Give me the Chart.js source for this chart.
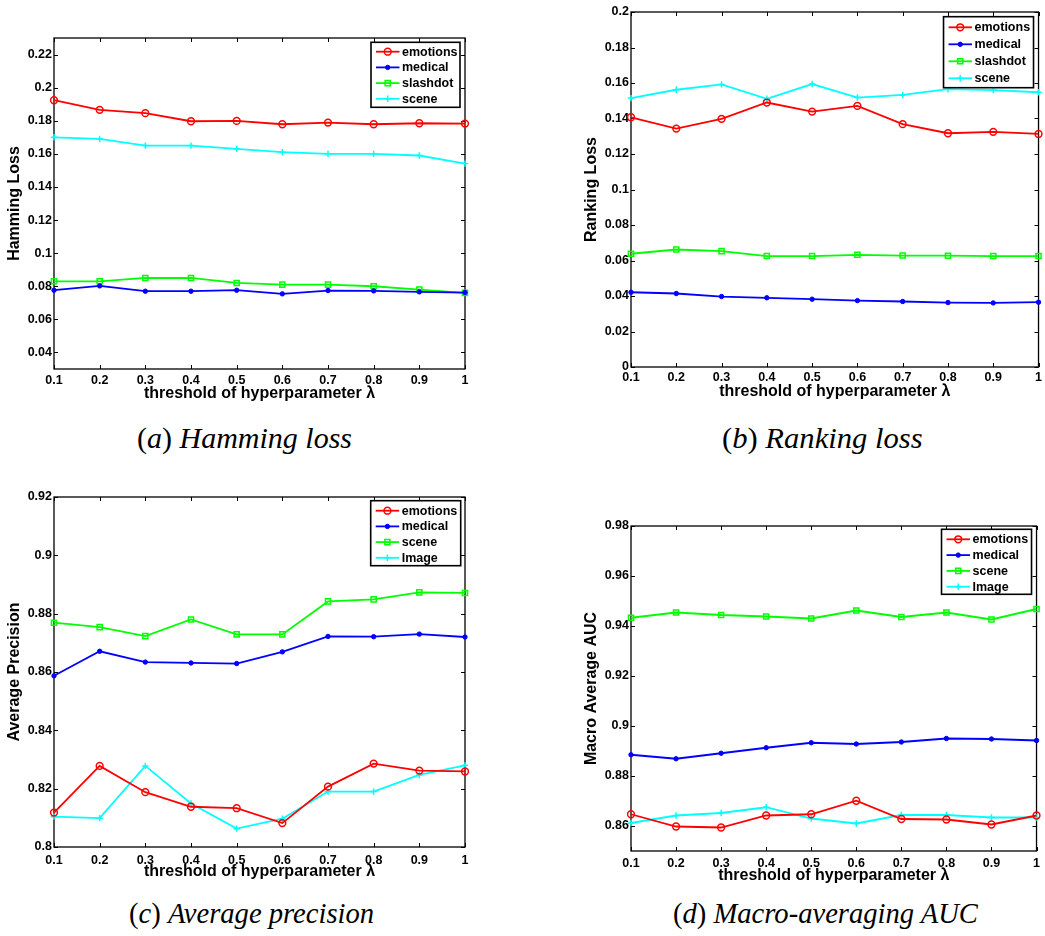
<!DOCTYPE html>
<html><head><meta charset="utf-8">
<script src="https://cdn.jsdelivr.net/npm/chart.js@4.4.0/dist/chart.umd.min.js"></script>
<style>
html,body{margin:0;padding:0;background:#fff;width:1045px;height:936px;overflow:hidden;}
canvas{position:absolute;}
.cap{position:absolute;font-family:"Liberation Serif","Times New Roman",serif;font-size:30px;line-height:30px;white-space:nowrap;color:#000;transform-origin:0 50%;}
.cap i{font-style:italic;}
</style></head><body>
<canvas id="ca" width="520" height="411" style="left:0;top:0"></canvas>
<canvas id="cb" width="525" height="409" style="left:520px;top:0"></canvas>
<canvas id="cc" width="520" height="429" style="left:0;top:460px"></canvas>
<canvas id="cd" width="525" height="433" style="left:520px;top:460px"></canvas>
<div class="cap" style="left:137px;top:423px">(<i>a</i>) <i>Hamming loss</i></div>
<div class="cap" style="left:722px;top:423px;transform:scaleX(1.02)">(<i>b</i>) <i>Ranking loss</i></div>
<div class="cap" style="left:129px;top:898px;transform:scaleX(0.953)">(<i>c</i>) <i>Average precision</i></div>
<div class="cap" style="left:673px;top:898px;transform:scaleX(0.953)">(<i>d</i>) <i>Macro-averaging AUC</i></div>
<script>
// ---- data ----
const xLabels = ['0.1','0.2','0.3','0.4','0.5','0.6','0.7','0.8','0.9','1'];
const xTitle = 'threshold of hyperparameter \u03bb';

const hamEmotions = [0.1924,0.1866,0.1846,0.1797,0.1799,0.1779,0.1789,0.1779,0.1785,0.1783];
const hamMedical  = [0.0776,0.0802,0.0770,0.0770,0.0776,0.0754,0.0774,0.0772,0.0766,0.0762];
const hamSlashdot = [0.0830,0.0830,0.0850,0.0850,0.0820,0.0810,0.0810,0.0800,0.0780,0.0760];
const hamScene    = [0.1700,0.1690,0.1650,0.1650,0.1630,0.1610,0.1600,0.1600,0.1590,0.1541];
const hamTicks    = [0.04,0.06,0.08,0.1,0.12,0.14,0.16,0.18,0.2,0.22];

const rankEmotions = [0.1407,0.1343,0.1398,0.1490,0.1439,0.1471,0.1368,0.1317,0.1325,0.1313];
const rankMedical  = [0.0421,0.0414,0.0397,0.0390,0.0382,0.0374,0.0369,0.0363,0.0361,0.0365];
const rankSlashdot = [0.0638,0.0662,0.0653,0.0625,0.0625,0.0632,0.0628,0.0627,0.0625,0.0625];
const rankScene    = [0.1515,0.1562,0.1592,0.1511,0.1594,0.1518,0.1533,0.1565,0.1560,0.1548];
const rankTicks    = [0,0.02,0.04,0.06,0.08,0.1,0.12,0.14,0.16,0.18,0.2];

const apEmotions = [0.8118,0.8278,0.8188,0.8138,0.8133,0.8082,0.8207,0.8286,0.8262,0.8259];
const apMedical  = [0.8587,0.8671,0.8634,0.8631,0.8629,0.8669,0.8722,0.8721,0.8730,0.8720];
const apScene    = [0.8769,0.8754,0.8723,0.8780,0.8729,0.8729,0.8842,0.8849,0.8873,0.8871];
const apImage    = [0.8104,0.8099,0.8278,0.8149,0.8063,0.8097,0.8190,0.8190,0.8247,0.8280];
const apTicks    = [0.8,0.82,0.84,0.86,0.88,0.9,0.92];

const aucEmotions = [0.8647,0.8598,0.8594,0.8642,0.8647,0.8701,0.8628,0.8626,0.8606,0.8642];
const aucMedical  = [0.8885,0.8869,0.8891,0.8913,0.8933,0.8928,0.8936,0.8950,0.8948,0.8942];
const aucScene    = [0.9433,0.9454,0.9444,0.9438,0.9430,0.9462,0.9436,0.9454,0.9426,0.9468];
const aucImage    = [0.8612,0.8642,0.8652,0.8675,0.8630,0.8610,0.8644,0.8644,0.8634,0.8634];
const aucTicks    = [0.86,0.88,0.9,0.92,0.94,0.96,0.98];

// ---- styles ----
const FONT = "'Liberation Sans', Arial, Helvetica, sans-serif";
const STY = {
  red:   {borderColor:'#ff0000', pointStyle:'circle', pointRadius:3.4, pointBackgroundColor:'rgba(0,0,0,0)', pointBorderColor:'#ff0000', pointBorderWidth:1.5},
  blue:  {borderColor:'#0000ff', pointStyle:'circle', pointRadius:2.2, pointBackgroundColor:'#0000ff', pointBorderColor:'#0000ff', pointBorderWidth:1},
  green: {borderColor:'#00ff00', pointStyle:'rect', pointRadius:3.6, pointBackgroundColor:'rgba(0,0,0,0)', pointBorderColor:'#00ff00', pointBorderWidth:1.5},
  cyan:  {borderColor:'#00ffff', pointStyle:'cross', pointRadius:3.2, pointBackgroundColor:'#00ffff', pointBorderColor:'#00ffff', pointBorderWidth:1.5}
};

function fmt(v){ return String(Number(v.toFixed(4))); }

const framePlugin = {
  id:'matlabFrame',
  beforeDatasetsDraw(chart){
    const ctx = chart.ctx, a = chart.chartArea, xs = chart.scales.x, ys = chart.scales.y;
    const tl = 4;
    ctx.save();
    ctx.strokeStyle = '#000'; ctx.lineWidth = 1;
    ctx.beginPath();
    xs.ticks.forEach((t,i)=>{
      const x = Math.round(xs.getPixelForTick(i))+0.5;
      ctx.moveTo(x,a.bottom); ctx.lineTo(x,a.bottom-tl);
      ctx.moveTo(x,a.top); ctx.lineTo(x,a.top+tl);
    });
    ys.ticks.forEach(t=>{
      const y = Math.round(ys.getPixelForValue(t.value))+0.5;
      ctx.moveTo(a.left,y); ctx.lineTo(a.left+tl,y);
      ctx.moveTo(a.right,y); ctx.lineTo(a.right-tl,y);
    });
    ctx.stroke();
    ctx.lineWidth = 1.3;
    ctx.strokeRect(a.left, a.top, a.right-a.left, a.bottom-a.top);
    ctx.restore();
  },
  afterDatasetsDraw(chart, args, opts){
    const L = opts.box; if(!L) return;
    const ctx = chart.ctx, a = chart.chartArea;
    const bx = a.right - L.right - L.w, by = a.top + L.top;
    ctx.save();
    ctx.fillStyle = '#fff'; ctx.fillRect(bx, by, L.w, L.h);
    ctx.strokeStyle = '#000'; ctx.lineWidth = 1.6; ctx.strokeRect(bx, by, L.w, L.h);
    chart.data.datasets.forEach((ds,i)=>{
      const y = by + L.first + i*L.row;
      ctx.strokeStyle = ds.borderColor; ctx.lineWidth = 1.8;
      ctx.beginPath(); ctx.moveTo(bx+5,y); ctx.lineTo(bx+28.5,y); ctx.stroke();
      ctx.fillStyle = ds.pointBackgroundColor; ctx.strokeStyle = ds.pointBorderColor; ctx.lineWidth = ds.pointBorderWidth;
      Chart.helpers.drawPoint(ctx, {pointStyle: ds.pointStyle, radius: ds.pointRadius, rotation:0, borderWidth: ds.pointBorderWidth}, bx+16.7, y);
      ctx.fillStyle = '#000'; ctx.font = 'bold 12.5px ' + FONT; ctx.textBaseline = 'middle'; ctx.textAlign='left';
      ctx.fillText(ds.label, bx+31, y+0.5);
    });
    ctx.restore();
  }
};

function makeChart(id, p){
  const datasets = p.series.map(([label, data, st]) => Object.assign({label, data, borderWidth:1.8, tension:0, fill:false, clip:false}, STY[st]));
  return new Chart(document.getElementById(id), {
    type:'line',
    data:{labels:xLabels, datasets},
    plugins:[framePlugin],
    options:{
      responsive:false, animation:false, devicePixelRatio:1,
      layout:{padding:{top:p.pad.top, left:p.pad.left, right:p.pad.right, bottom:0}},
      plugins:{legend:{display:false}, tooltip:{enabled:false}, matlabFrame:{box:p.legend}},
      scales:{
        x:{type:'category', offset:false,
           grid:{display:false, drawTicks:false}, border:{display:false},
           ticks:{color:'#000', font:{family:FONT, size:12.5, weight:'bold'}, padding:p.xPad, maxRotation:0, autoSkip:false},
           title:{display:true, text:xTitle, color:'#000', font:{family:FONT, size:16, weight:'bold'}, padding:{top:0, bottom:8}},
           afterFit:(s)=>{ s.height = 42; }},
        y:{type:'linear', min:p.min, max:p.max,
           afterBuildTicks:(s)=>{ s.ticks = p.ticks.map(v=>({value:v})); },
           grid:{display:false, drawTicks:false}, border:{display:false},
           ticks:{color:'#000', font:{family:FONT, size:12.5, weight:'bold'}, padding:2, callback:(v)=>fmt(v)},
           title:{display:true, text:p.yTitle, color:'#000', font:{family:FONT, size:16, weight:'bold'}, padding:{top:5, bottom:0}},
           afterFit:(s)=>{ s.width = 54; }}
      }
    }
  });
}

makeChart('ca', {
  series:[['emotions',hamEmotions,'red'],['medical',hamMedical,'blue'],['slashdot',hamSlashdot,'green'],['scene',hamScene,'cyan']],
  min:0.03, max:0.23, ticks:hamTicks, yTitle:'Hamming Loss',
  pad:{top:38,left:0,right:55}, xPad:4,
  legend:{w:89, h:65, top:4.3, right:5, first:9.4, row:15.7}
});
makeChart('cb', {
  series:[['emotions',rankEmotions,'red'],['medical',rankMedical,'blue'],['slashdot',rankSlashdot,'green'],['scene',rankScene,'cyan']],
  min:0, max:0.2, ticks:rankTicks, yTitle:'Ranking Loss',
  pad:{top:12,left:57,right:4}, xPad:3,
  legend:{w:90, h:71, top:4.7, right:5, first:10.6, row:17}
});
makeChart('cc', {
  series:[['emotions',apEmotions,'red'],['medical',apMedical,'blue'],['scene',apScene,'green'],['Image',apImage,'cyan']],
  min:0.8, max:0.92, ticks:apTicks, yTitle:'Average Precision',
  pad:{top:37,left:0,right:55}, xPad:6,
  legend:{w:90, h:65, top:3.7, right:4.3, first:10, row:15.7}
});
makeChart('cd', {
  series:[['emotions',aucEmotions,'red'],['medical',aucMedical,'blue'],['scene',aucScene,'green'],['Image',aucImage,'cyan']],
  min:0.85, max:0.98, ticks:aucTicks, yTitle:'Macro Average AUC',
  pad:{top:66,left:57,right:4}, xPad:5,
  legend:{w:90, h:65, top:3.3, right:5, first:10, row:15.8}
});
</script>
</body></html>
